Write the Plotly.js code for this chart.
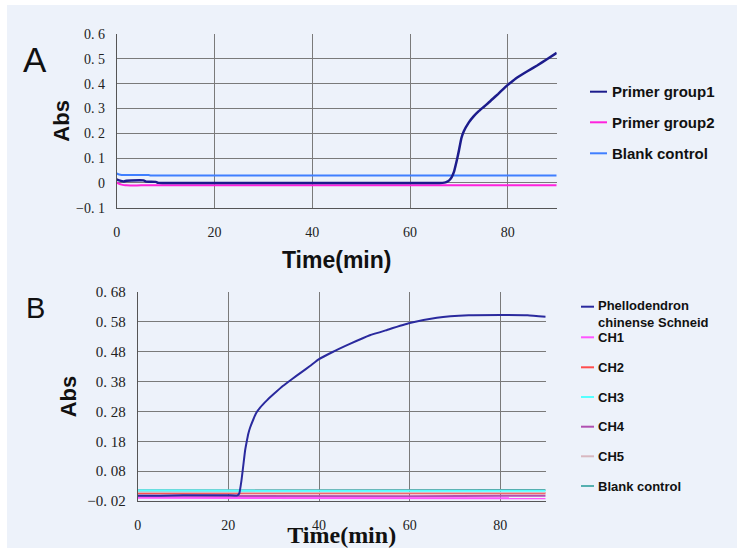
<!DOCTYPE html>
<html><head><meta charset="utf-8">
<script src="https://cdn.plot.ly/plotly-3.0.1.min.js"></script>
<style>
html,body{margin:0;padding:0;background:#fff;width:737px;height:548px;overflow:hidden}
#chart{position:absolute;left:7px;top:5px;width:730px;height:543px}
</style>
</head><body><div id="chart"></div>
<script>
// ---------- Panel A data ----------
const seriesNamesA = ["Primer group1", "Primer group2", "Blank control"];
const timeA_group1 = [0, 0.5, 1.5, 2, 3, 5.5, 6, 8, 8.5, 20, 40, 60, 66, 67, 67.5, 68, 68.5, 69, 69.5, 70, 70.5, 71, 72, 73, 74, 75, 76, 77, 78, 79, 80, 81, 82, 84, 86, 88, 90];
const absA_group1  = [0.014, 0.010, 0.006, 0.009, 0.010, 0.010, 0.005, 0.004, 0, 0, 0, 0, 0, 0.001, 0.004, 0.010, 0.022, 0.045, 0.085, 0.130, 0.180, 0.208, 0.243, 0.268, 0.288, 0.305, 0.322, 0.340, 0.358, 0.377, 0.395, 0.411, 0.426, 0.450, 0.473, 0.498, 0.524];
const timeA_group2 = [0, 0.3, 1, 1.5, 2, 5, 90];
const absA_group2  = [0.002, -0.002, -0.007, -0.009, -0.010, -0.010, -0.010];
const timeA_blank  = [0, 0.5, 1, 6.5, 7, 90];
const absA_blank   = [0.038, 0.034, 0.032, 0.032, 0.030, 0.030];
const colorsA = ["#1c1c8c", "#ff22dd", "#3f7fff"];

// ---------- Panel B data ----------
const seriesNamesB = ["Phellodendron chinense Schneid", "CH1", "CH2", "CH3", "CH4", "CH5", "Blank control"];
const timeB_phello = [0, 5, 10, 15, 20, 22, 22.4, 22.9, 23.3, 23.7, 24.0, 24.4, 24.8, 25.5, 26.2, 27, 28.5, 30, 32, 34, 36, 38, 40, 43, 46.8, 51.2, 55, 60, 66, 73, 80, 86, 90];
const absB_phello  = [-0.002, -0.002, -0.001, -0.001, -0.001, -0.001, 0.005, 0.050, 0.100, 0.150, 0.175, 0.205, 0.226, 0.253, 0.276, 0.293, 0.317, 0.338, 0.365, 0.388, 0.410, 0.432, 0.455, 0.479, 0.506, 0.535, 0.553, 0.576, 0.594, 0.602, 0.603, 0.602, 0.597];
const timeB_flat = [0, 30, 60, 90];
const absB_CH1   = [-0.009, -0.010, -0.011, -0.011];
const absB_CH2   = [0.006, 0.006, 0.005, 0.006];
const absB_CH3   = [0.015, 0.014, 0.014, 0.014];
const absB_CH4   = [-0.002, -0.003, -0.004, -0.002];
const absB_CH5   = [0.010, 0.010, 0.009, 0.009];
const absB_blank = [0.016, 0.016, 0.016, 0.017];
const colorsB = ["#2a2a9e", "#ff55ff", "#ff4d4d", "#55ffff", "#b050b0", "#d8b8c0", "#55b0b0"];

// ---------- Tick labels ----------
const tickValsAx = [0, 20, 40, 60, 80];
const tickTextAx = ["0", "20", "40", "60", "80"];
const tickValsAy = [-0.1, 0, 0.1, 0.2, 0.3, 0.4, 0.5, 0.6];
const tickTextAy = ["\u22120. 1", "0", "0. 1", "0. 2", "0. 3", "0. 4", "0. 5", "0. 6"];
const tickValsBx = [0, 20, 40, 60, 80];
const tickTextBx = ["0", "20", "40", "60", "80"];
const tickValsBy = [-0.02, 0.08, 0.18, 0.28, 0.38, 0.48, 0.58, 0.68];
const tickTextBy = ["\u22120. 02", "0. 08", "0. 18", "0. 28", "0. 38", "0. 48", "0. 58", "0. 68"];

// ---------- helpers (page pixel -> paper fraction) ----------
const W = 730, H = 543, OX = 7, OY = 5;
const px = X => (X - OX) / W;
const py = Y => 1 - (Y - OY) / H;

const traces = [];
const dataA = [[timeA_blank, absA_blank, 2], [timeA_group2, absA_group2, 2], [timeA_group1, absA_group1, 2.5]];
const idxA = [2, 1, 0];
dataA.forEach((d, k) => {
  const i = idxA[k];
  traces.push({x: d[0], y: d[1], type: "scatter", mode: "lines", name: seriesNamesA[i],
    line: {color: colorsA[i], width: d[2], shape: "spline", smoothing: 0.4}, xaxis: "x", yaxis: "y", showlegend: false});
});
const flatB = [absB_CH1, absB_CH2, absB_CH3, absB_CH4, absB_CH5, absB_blank];
const orderB = [6, 2, 4, 5, 3, 1]; // draw order of flat series (index into seriesNamesB)
orderB.forEach(i => {
  traces.push({x: timeB_flat, y: flatB[i - 1], type: "scatter", mode: "lines", name: seriesNamesB[i],
    line: {color: colorsB[i], width: 2}, xaxis: "x2", yaxis: "y2", showlegend: false});
});
traces.push({x: timeB_phello, y: absB_phello, type: "scatter", mode: "lines", name: seriesNamesB[0],
  line: {color: colorsB[0], width: 2, shape: "spline", smoothing: 0.4}, xaxis: "x2", yaxis: "y2", showlegend: false});

const tickFont = {family: "Liberation Serif, serif", size: 14, color: "#222"};
const gridCol = "#7a7a7a";
const baseAxis = {showgrid: true, gridcolor: gridCol, gridwidth: 1, showline: true, linecolor: "#555",
  linewidth: 1, ticks: "", zeroline: false, tickmode: "array", fixedrange: true, automargin: false};

const shapes = [], annotations = [];
// Legend A
const legAy = [91.7, 122.3, 153.3];
seriesNamesA.forEach((n, i) => {
  shapes.push({type: "line", xref: "paper", yref: "paper", x0: px(590), x1: px(607), y0: py(legAy[i]), y1: py(legAy[i]),
    line: {color: colorsA[i], width: 2}});
  annotations.push({text: n, xref: "paper", yref: "paper", x: px(610), y: py(legAy[i]), xanchor: "left", yanchor: "middle",
    showarrow: false, font: {family: "Liberation Sans, Arial, sans-serif", size: 15, color: "#111", weight: "bold"}});
});
// Legend B
const legBy = [306.7, 337.3, 367.3, 397, 426.7, 456.3, 486];
seriesNamesB.forEach((n, i) => {
  shapes.push({type: "line", xref: "paper", yref: "paper", x0: px(581), x1: px(594), y0: py(legBy[i]), y1: py(legBy[i]),
    line: {color: colorsB[i], width: 2}});
  const txt = i === 0 ? "Phellodendron<br>chinense Schneid" : n;
  annotations.push({text: txt, xref: "paper", yref: "paper", x: px(596), y: py(i === 0 ? 314.2 : legBy[i]),
    xanchor: "left", yanchor: "middle", align: "left", showarrow: false,
    font: {family: "Liberation Sans, Arial, sans-serif", size: 13, color: "#111", weight: "bold"}});
});
// Panel letters
annotations.push({text: "A", xref: "paper", yref: "paper", x: px(35), y: py(60), xanchor: "center", yanchor: "middle",
  showarrow: false, font: {family: "Liberation Sans, Arial, sans-serif", size: 35, color: "#111"}});
annotations.push({text: "B", xref: "paper", yref: "paper", x: px(35), y: py(308), xanchor: "center", yanchor: "middle",
  showarrow: false, font: {family: "Liberation Sans, Arial, sans-serif", size: 29, color: "#111"}});

const layout = {
  width: W, height: H,
  margin: {l: 0, r: 0, t: 0, b: 0},
  paper_bgcolor: "#edf2fa", plot_bgcolor: "rgba(0,0,0,0)",
  showlegend: false,
  xaxis: Object.assign({}, baseAxis, {domain: [px(116.7), px(556.7)], range: [0, 90], anchor: "y",
    tickvals: tickValsAx, ticktext: tickTextAx, tickfont: tickFont, ticklabelstandoff: 11,
    title: {text: "Time(min)", standoff: 13, font: {family: "Liberation Sans, Arial, sans-serif", size: 23, color: "#111", weight: "bold"}}}),
  yaxis: Object.assign({}, baseAxis, {domain: [py(207.7), py(34)], range: [-0.1, 0.6], anchor: "x",
    tickvals: tickValsAy, ticktext: tickTextAy, tickfont: tickFont, ticklabelstandoff: 8,
    title: {text: "Abs", standoff: 0, font: {family: "Liberation Sans, Arial, sans-serif", size: 22, color: "#111", weight: "bold"}}}),
  xaxis2: Object.assign({}, baseAxis, {domain: [px(137.7), px(545.7)], range: [0, 90], anchor: "y2",
    tickvals: tickValsBx, ticktext: tickTextBx, tickfont: tickFont, ticklabelstandoff: 11,
    title: {text: "Time(min)", standoff: 1, font: {family: "Liberation Serif, serif", size: 24, color: "#111", weight: "bold"}}}),
  yaxis2: Object.assign({}, baseAxis, {domain: [py(501), py(292)], range: [-0.02, 0.68], anchor: "x2",
    tickvals: tickValsBy, ticktext: tickTextBy, tickfont: {family: "Liberation Serif, serif", size: 15, color: "#222"}, ticklabelstandoff: 8,
    title: {text: "Abs", standoff: 4, font: {family: "Liberation Sans, Arial, sans-serif", size: 22, color: "#111", weight: "bold"}}}),
  shapes: shapes,
  annotations: annotations
};

Plotly.newPlot("chart", traces, layout, {displayModeBar: false, staticPlot: true});
</script>
</body></html>
